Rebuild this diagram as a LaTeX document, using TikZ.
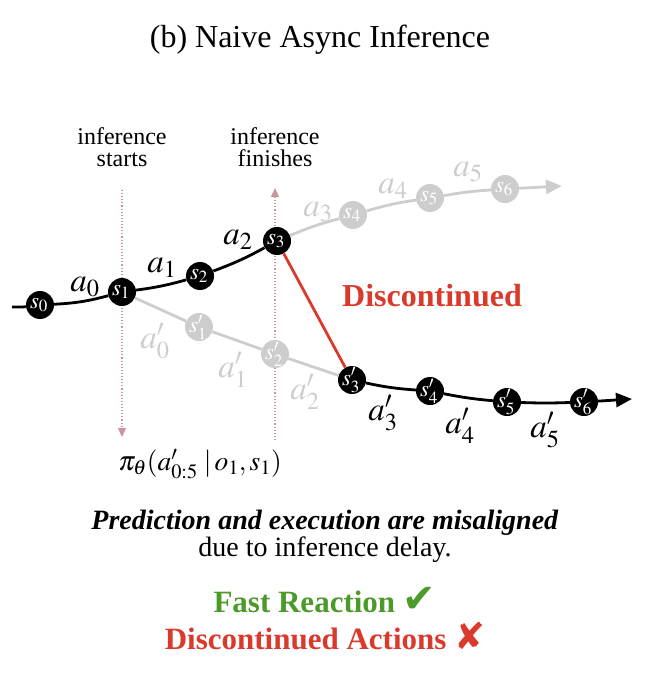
\documentclass[tikz,border=0pt]{standalone}
\usepackage{mathptmx}
\usepackage{fontspec}
\setmainfont{Liberation Serif}
\newfontfamily\symfont{DejaVu Sans}
\usetikzlibrary{arrows.meta}
\definecolor{redc}{HTML}{D93A2B}
\definecolor{greenc}{HTML}{4C9A2A}
\definecolor{grayc}{HTML}{CDCDCD}
\definecolor{pinkc}{HTML}{C9969F}
\tikzset{
  st/.style={circle, fill=black, inner sep=0pt, minimum size=28pt},
  gst/.style={st, fill=grayc},
  stl/.style={text=white, inner sep=0pt, xshift=-1pt, font=\fontsize{23}{23}\selectfont},
  lab/.style={font=\fontsize{33}{33}\selectfont},
  glab/.style={lab, text=grayc},
  blk/.style={line width=2.8pt, black},
  gry/.style={line width=2.8pt, grayc},
  dotarrow/.style={pinkc, line width=1.1pt, dotted, -{Triangle[length=9pt,width=8pt]}},
  infolab/.style={align=center, font=\fontsize{24}{22}\selectfont},
}
\begin{document}
\begin{tikzpicture}[x=1pt,y=1pt]
\useasboundingbox (0,0) rectangle (650,-692);
\node[font=\fontsize{32}{32}\selectfont] (title) at (320,-40) {(b) Naive Async Inference};
\node[infolab] (lstart) at (122,-147) {inference\\starts};
\node[infolab] (lfin) at (275,-147) {inference\\finishes};
% dotted arrows
\coordinate (d1a) at (122,-190);
\coordinate (d1b) at (122,-437);
\draw[dotarrow] (d1a) -- (d1b);
\coordinate (d2a) at (275,-440);
\coordinate (d2b) at (275,-188);
\draw[dotarrow] (d2a) -- (d2b);
% state nodes
\coordinate (start) at (12,-307);
\node[st] (s0) at (40,-305) {};
\node[st] (s1) at (122,-292) {};
\node[st] (s2) at (200,-276) {};
\node[st] (s3) at (277,-241) {};
\node[gst] (s4) at (353,-215) {};
\node[gst] (s5) at (430,-198) {};
\node[gst] (s6) at (505,-189) {};
\coordinate (gend) at (562,-186);
\node[gst] (p1) at (199,-327) {};
\node[gst] (p2) at (275,-354) {};
\node[st] (p3) at (352,-380) {};
\node[st] (p4) at (430,-391) {};
\node[st] (p5) at (507,-402) {};
\node[st] (p6) at (584,-402) {};
\coordinate (bend) at (632,-399);
% black path
\draw[blk] (start) to[bend right=3] (s0);
\draw[blk] (s0) to[bend right=6] (s1);
\draw[blk] (s1) to[bend right=4] (s2);
\draw[blk] (s2) to[bend right=4] (s3);
% gray upper
\draw[gry] (s3) to[bend left=4] (s4);
\draw[gry] (s4) to[bend left=4] (s5);
\draw[gry] (s5) to[bend left=3] (s6);
\draw[gry, -{Triangle[length=16pt,width=14pt]}] (s6) -- (gend);
% gray lower
\draw[gry] (s1) -- (p1);
\draw[gry] (p1) -- (p2);
\draw[gry] (p2) -- (p3);
% black lower
\draw[blk] (p3) to[bend right=4] (p4);
\draw[blk] (p4) to[bend right=3] (p5);
\draw[blk] (p5) to[bend right=2] (p6);
\draw[blk, -{Triangle[length=16pt,width=14pt]}] (p6) -- (bend);
% red
\draw[line width=2.8pt, redc] (s3) -- (p3);
% state texts (drawn last, on top)
\node[stl] (t0) at (s0) {$s_0$};
\node[stl] (t1) at (s1) {$s_1$};
\node[stl] (t2) at (s2) {$s_2$};
\node[stl] (t3) at (s3) {$s_3$};
\node[stl] (t4) at (s4) {$s_4$};
\node[stl] (t5) at (s5) {$s_5$};
\node[stl] (t6) at (s6) {$s_6$};
\node[stl] (q1) at (p1) {$s'_1$};
\node[stl] (q2) at (p2) {$s'_2$};
\node[stl] (q3) at (p3) {$s'_3$};
\node[stl] (q4) at (p4) {$s'_4$};
\node[stl] (q5) at (p5) {$s'_5$};
\node[stl] (q6) at (p6) {$s'_6$};
% action labels
\node[lab] (a0) at (85,-287) {$a_0$};
\node[lab] (a1) at (162,-268) {$a_1$};
\node[lab] (a2) at (238,-240) {$a_2$};
\node[glab] (a3) at (318,-212) {$a_3$};
\node[glab] (a4) at (393,-189) {$a_4$};
\node[glab] (a5) at (468,-172) {$a_5$};
\node[glab] (b0) at (155,-341) {$a'_0$};
\node[glab] (b1) at (233,-370) {$a'_1$};
\node[glab] (b2) at (305,-392) {$a'_2$};
\node[lab] (b3) at (383,-413) {$a'_3$};
\node[lab] (b4) at (460,-426) {$a'_4$};
\node[lab] (b5) at (545,-430) {$a'_5$};
\node[font=\bfseries\fontsize{32}{32}\selectfont, text=redc] (disc) at (432,-296) {Discontinued};
\node[inner sep=0pt, font=\fontsize{27.5}{27.5}\selectfont] (pi) at (200,-464) {$\pi_\theta(a'_{0:5}\;|\,o_1, s_1)$};
\node[align=center, font=\fontsize{28}{27}\selectfont] (pred) at (325,-536) {\textbf{\textit{Prediction and execution are misaligned}}\\due to inference delay.};
\node[font=\bfseries\fontsize{31}{31}\selectfont, text=greenc] (fast) at (325,-600) {Fast Reaction {\symfont\fontsize{40}{40}\selectfont ✔}};
\node[font=\bfseries\fontsize{31}{31}\selectfont, text=redc] (dact) at (325,-636) {Discontinued Actions {\symfont\fontsize{37}{37}\selectfont ✘}};
\end{tikzpicture}
\end{document}
